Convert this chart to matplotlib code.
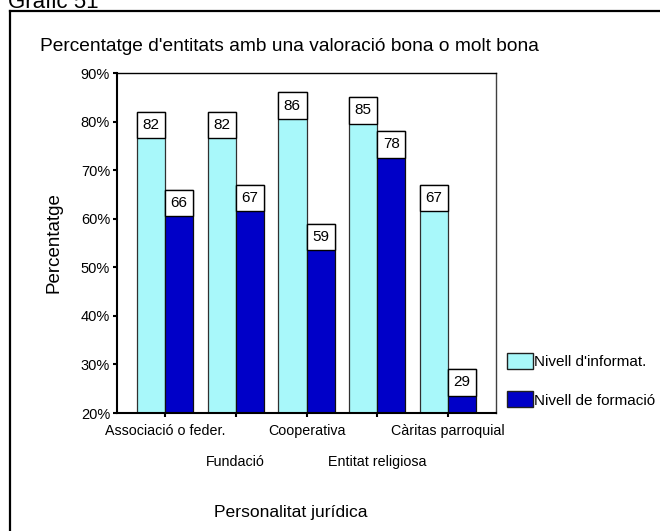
import numpy as np
import matplotlib.pyplot as plt
from matplotlib.lines import Line2D
from matplotlib.patches import Patch

plt.rcParams['font.family'] = ['Liberation Sans', 'DejaVu Sans']

categories = ['Associació o feder.', 'Fundació', 'Cooperativa',
              'Entitat religiosa', 'Càritas parroquial']
informacio = [82, 82, 86, 85, 67]
formacio = [66, 67, 59, 78, 29]
series_names = ["Nivell d'informat.", 'Nivell de formació']
light = '#a8f8fa'
dark = '#0000c8'

fig = plt.figure(figsize=(6.6, 5.31), dpi=100)
ax = fig.add_axes([0.1773, 0.2222, 0.5742, 0.6403])

x = np.arange(len(categories))
w = 0.4
ax.bar(x - w / 2, informacio, w, color=light, edgecolor='#303030', linewidth=0.9, zorder=2)
ax.bar(x + w / 2, formacio, w, color=dark, edgecolor='#101010', linewidth=0.9, zorder=2)

# value boxes hanging just under each bar top
box_h = 5.4
for xs, vals in ((x - w / 2, informacio), (x + w / 2, formacio)):
    ax.bar(xs, [box_h] * len(vals), w, bottom=[v - box_h for v in vals],
           color='white', edgecolor='black', linewidth=1.0, zorder=3)
    for xi, v in zip(xs, vals):
        ax.text(xi, v - box_h / 2, str(v), ha='center', va='center',
                fontsize=11, zorder=4)

ax.set_xlim(-0.68, 4.68)
ax.set_ylim(20, 90)
ax.set_yticks(range(20, 91, 10))
ax.set_yticklabels([f'{t}%' for t in range(20, 91, 10)], fontsize=10.5)
ax.set_xticks(x)
ax.set_xticklabels(categories, fontsize=10.3)
ax.tick_params(axis='both', length=3, width=1.5, color='black', pad=2)
ax.tick_params(axis='x', pad=5)
# stagger the category names on two rows
for i, tick in enumerate(ax.xaxis.get_major_ticks()):
    if i % 2 == 1:
        tick.set_pad(27)

for s in ('left', 'bottom'):
    ax.spines[s].set_linewidth(1.5)
ax.spines['top'].set_linewidth(1.0)
ax.spines['right'].set_linewidth(1.0)
ax.spines['right'].set_color('#404040')

ax.set_ylabel('Percentatge', fontsize=13.5, labelpad=13)
fig.text(0.44, 0.035, 'Personalitat jurídica', fontsize=12.6, ha='center', va='center')
fig.text(0.06, 0.913, "Percentatge d'entitats amb una valoració bona o molt bona",
         fontsize=13.8, ha='left', va='center')
fig.text(0.012, 0.995, 'Gràfic 51', fontsize=16, ha='left', va='center')

handles = [Patch(facecolor=light, edgecolor='#202020', linewidth=1.0),
           Patch(facecolor=dark, edgecolor='#202020', linewidth=1.0)]
fig.legend(handles, series_names, loc='upper left', bbox_to_anchor=(0.768, 0.335),
           frameon=False, fontsize=11, handlelength=1.7, handleheight=1.25,
           handletextpad=0.1, labelspacing=1.44, borderaxespad=0, borderpad=0)

# page frame around the chart
fig.add_artist(Line2D([0.0144, 0.0144], [0.0, 0.979], color='black', linewidth=1.6))
fig.add_artist(Line2D([0.0144, 1.0], [0.979, 0.979], color='black', linewidth=1.6))

fig.savefig('out.png', dpi=100)
